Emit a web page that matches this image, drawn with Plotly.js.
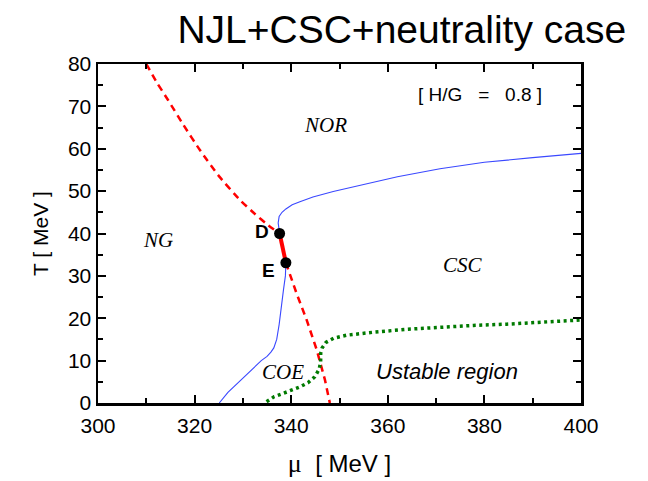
<!DOCTYPE html>
<html>
<head>
<meta charset="utf-8">
<script src="https://cdn.plot.ly/plotly-3.0.1.min.js"></script>
<style>
  html, body { margin: 0; padding: 0; background: #ffffff; }
  #chart { width: 648px; height: 481px; }
</style>
</head>
<body>
<div id="chart"></div>
<script>
// First-order boundary above the critical point D (dashed red)
const redUpperMu = [310.0, 312.2, 314.5, 317.7, 321.1, 325.0, 329.4, 332.5, 335.2, 337.6];
const redUpperT  = [80.0, 75.6, 71.5, 65.6, 59.7, 53.6, 47.9, 44.6, 42.0, 40.0];

// Segment D-E (solid thick red)
const redDEMu = [337.6, 338.9];
const redDET  = [40.0, 33.1];

// First-order boundary below E (dashed red)
const redLowerMu = [338.9, 341.1, 343.2, 345.3, 347.0, 348.0];
const redLowerT  = [33.1, 25.9, 19.6, 12.5, 5.4, 0.0];

// NOR / CSC boundary above D (blue)
const blueUpperMu = [337.6, 337.3, 337.5, 338.1, 338.9, 340.2, 341.8, 344.5, 348.7, 354.2, 362.0, 370.8, 380.0, 390.0, 400.0];
const blueUpperT  = [40.0, 42.5, 44.0, 45.0, 45.8, 46.8, 47.5, 48.6, 49.9, 51.4, 53.4, 55.3, 56.8, 57.9, 58.9];

// NG / COE boundary below E (blue)
const blueLowerMu = [338.9, 338.8, 338.4, 338.0, 337.5, 337.0, 336.4, 335.8, 335.0, 333.8, 332.2, 330.5, 328.7, 326.9, 325.1];
const blueLowerT  = [33.1, 30.0, 26.7, 22.5, 18.5, 15.0, 13.0, 12.0, 11.0, 10.0, 8.3, 6.5, 4.6, 2.5, 0.0];

// Border of the unstable region (green dotted)
const greenMu = [334.9, 336.5, 338.4, 340.2, 341.8, 343.5, 344.9, 345.8, 346.1, 346.1, 346.4, 347.2, 348.8, 351.5, 354.3, 357.0, 363.9, 370.8, 377.7, 384.6, 391.6, 400.0];
const greenT  = [0.3, 1.5, 2.3, 3.0, 3.8, 4.8, 6.2, 8.0, 9.8, 11.7, 13.0, 14.3, 15.3, 16.0, 16.4, 16.7, 17.4, 17.9, 18.3, 18.6, 19.0, 19.6];

// Critical points
const pointNames = ['D', 'E'];
const pointMu = [337.6, 338.9];
const pointT  = [40.0, 33.1];

// Phase labels
const phaseNames = ['NOR', 'NG', 'CSC', 'COE'];
const phaseMu = [347.0, 312.5, 375.6, 338.4];
const phaseT  = [65.6, 38.5, 32.6, 7.3];

const SANS = 'Liberation Sans, Arial, sans-serif';
const SERIF = 'Liberation Serif, Times New Roman, serif';

const traces = [
  { x: redUpperMu, y: redUpperT, mode: 'lines', line: { color: '#ff0000', width: 2.5, dash: '7px,5px', shape: 'spline', smoothing: 0.6 }, hoverinfo: 'skip' },
  { x: redLowerMu, y: redLowerT, mode: 'lines', line: { color: '#ff0000', width: 2.5, dash: '7px,5px' }, hoverinfo: 'skip' },
  { x: blueUpperMu, y: blueUpperT, mode: 'lines', line: { color: '#3a48ff', width: 1.1 }, hoverinfo: 'skip' },
  { x: blueLowerMu, y: blueLowerT, mode: 'lines', line: { color: '#3a48ff', width: 1.1 }, hoverinfo: 'skip' },
  { x: greenMu, y: greenT, mode: 'lines', line: { color: '#007a00', width: 3.5, dash: '3px,3.5px' }, hoverinfo: 'skip' },
  { x: redDEMu, y: redDET, mode: 'lines', line: { color: '#ff0000', width: 4 }, hoverinfo: 'skip' },
  { x: pointMu, y: pointT, mode: 'markers', marker: { color: '#000000', size: 11 }, hoverinfo: 'skip' }
];

const annotations = [];
pointNames.forEach((name, i) => {
  annotations.push({
    x: pointMu[i], y: pointT[i], xref: 'x', yref: 'y',
    text: '<b>' + name + '</b>', showarrow: false,
    xanchor: 'right', yanchor: 'middle',
    xshift: -9, yshift: i === 0 ? 2 : -8,
    font: { family: SANS, size: 19, color: '#000000' }
  });
});
phaseNames.forEach((name, i) => {
  annotations.push({
    x: phaseMu[i], y: phaseT[i], xref: 'x', yref: 'y',
    text: '<i>' + name + '</i>', showarrow: false,
    xanchor: 'center', yanchor: 'middle',
    font: { family: SERIF, size: 21, color: '#000000' }
  });
});
annotations.push({
  x: 372.2, y: 7.5, xref: 'x', yref: 'y',
  text: '<i>Ustable region</i>', showarrow: false,
  xanchor: 'center', yanchor: 'middle',
  font: { family: SANS, size: 22, color: '#000000' }
});
annotations.push({
  x: 379.0, y: 72.7, xref: 'x', yref: 'y',
  text: '[ H/G \u00a0\u00a0=\u00a0\u00a0 0.8 ]', showarrow: false,
  xanchor: 'center', yanchor: 'middle',
  font: { family: SANS, size: 19, color: '#000000' }
});

const axisCommon = {
  showline: true, linecolor: '#000000', linewidth: 2.5, mirror: 'ticks',
  ticks: 'inside', ticklen: 8, tickwidth: 2, tickcolor: '#000000',
  showgrid: false, zeroline: false, fixedrange: true,
  tickfont: { family: SANS, size: 21, color: '#000000' }
};

const layout = {
  width: 648, height: 481,
  margin: { l: 98, r: 67, t: 64, b: 78 },
  paper_bgcolor: '#ffffff', plot_bgcolor: '#ffffff',
  showlegend: false,
  title: {
    text: 'NJL+CSC+neutrality case',
    font: { family: SANS, size: 39, color: '#000000' },
    x: 0.62, xanchor: 'center', xref: 'container',
    y: 0.94, yanchor: 'middle', yref: 'container'
  },
  xaxis: Object.assign({}, axisCommon, {
    range: [300, 400], tick0: 300, dtick: 20,
    ticklabelstandoff: 2,
    minor: { dtick: 10, ticks: 'inside', ticklen: 5, tickwidth: 2, tickcolor: '#000000' },
    title: { text: '<span style="font-family:Liberation Serif;font-size:26px">μ</span>\u00a0 [ MeV ]', font: { family: SANS, size: 24, color: '#000000' }, standoff: 20 }
  }),
  yaxis: Object.assign({}, axisCommon, {
    range: [0, 80], tick0: 0, dtick: 10,
    minor: { dtick: 5, ticks: 'inside', ticklen: 5, tickwidth: 2, tickcolor: '#000000' },
    title: { text: 'T [ MeV ]\u00a0\u00a0\u00a0', font: { family: SANS, size: 21, color: '#000000' }, standoff: 14 }
  }),
  annotations: annotations
};

Plotly.newPlot('chart', traces, layout, { displayModeBar: false, staticPlot: true });
</script>
</body>
</html>
